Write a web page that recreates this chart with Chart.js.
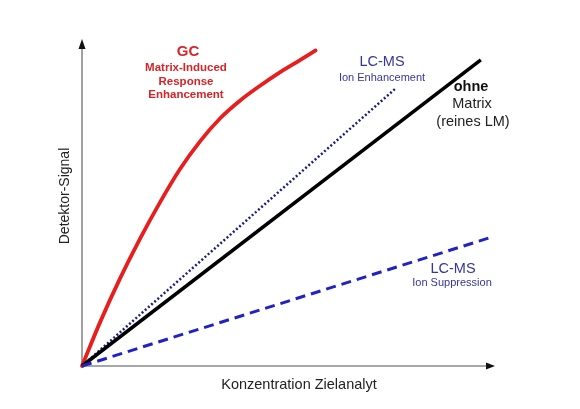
<!DOCTYPE html>
<html>
<head>
<meta charset="utf-8">
<script src="https://cdn.jsdelivr.net/npm/chart.js@4"></script>
<style>
html,body{margin:0;padding:0;background:#fff;}
#wrap{position:relative;width:580px;height:409px;}
</style>
</head>
<body>
<div id="wrap"><canvas id="c" width="580" height="409"></canvas></div>
<script>
// Data (x: concentration, y: detector signal, arbitrary units 0..100)
const gcX      = [0, 4.4, 9.3, 14.1, 19.0, 23.8, 28.7, 33.6, 38.4, 43.3, 48.2, 53.0, 56.7];
const gcY      = [0, 13.5, 27.1, 39.2, 50.5, 60.6, 69.2, 76.3, 81.7, 86.3, 90.5, 94.2, 97.1];
const ohneX    = [0, 96.8];
const ohneY    = [0, 94.2];
const enhX     = [0, 76.2];
const enhY     = [0, 85.5];
const suppX    = [0, 98.8];
const suppY    = [0, 39.4];
const xTitle   = 'Konzentration Zielanalyt';
const yTitle   = 'Detektor-Signal';
const gcLabel  = ['GC', 'Matrix-Induced', 'Response', 'Enhancement'];
const enhLabel = ['LC-MS', 'Ion Enhancement'];
const ohneLabel= ['ohne', 'Matrix', '(reines LM)'];
const suppLabel= ['LC-MS', 'Ion Suppression'];

const pts = (xs, ys) => xs.map((x, i) => ({x: x, y: ys[i]}));
const FONT = '"Liberation Sans", Arial, Helvetica, sans-serif';

const decor = {
  id: 'decor',
  beforeDatasetsDraw(chart) {
    const ctx = chart.ctx;
    const xs = chart.scales.x, ys = chart.scales.y;
    const x0 = xs.getPixelForValue(0), y0 = ys.getPixelForValue(0);
    const xEnd = xs.getPixelForValue(100), yEnd = ys.getPixelForValue(100);
    ctx.save();
    ctx.strokeStyle = '#8a8a8a';
    ctx.lineWidth = 1.6;
    ctx.beginPath();
    ctx.moveTo(x0, y0); ctx.lineTo(x0, yEnd + 6);
    ctx.moveTo(x0, y0); ctx.lineTo(xEnd - 6, y0);
    ctx.stroke();
    ctx.fillStyle = '#111';
    ctx.beginPath();
    ctx.moveTo(x0, yEnd - 2); ctx.lineTo(x0 - 3.5, yEnd + 8); ctx.lineTo(x0 + 3.5, yEnd + 8); ctx.closePath();
    ctx.fill();
    ctx.beginPath();
    ctx.moveTo(xEnd + 1, y0); ctx.lineTo(xEnd - 8, y0 - 3.5); ctx.lineTo(xEnd - 8, y0 + 3.5); ctx.closePath();
    ctx.fill();
    ctx.restore();
  },
  afterDatasetsDraw(chart) {
    const ctx = chart.ctx;
    ctx.save();
    ctx.textAlign = 'center';
    ctx.textBaseline = 'middle';
    const t = (s, x, y, font, color) => { ctx.font = font; ctx.fillStyle = color; ctx.fillText(s, x, y); };
    // axis titles
    t(xTitle, 299, 385, '14.5px ' + FONT, '#222');
    ctx.save();
    ctx.translate(65, 196);
    ctx.rotate(-Math.PI / 2);
    t(yTitle, 0, 0, '14px ' + FONT, '#222');
    ctx.restore();
    // GC label
    const red = '#d62428';
    t(gcLabel[0], 188, 52, 'bold 15px ' + FONT, red);
    t(gcLabel[1], 186, 67.5, 'bold 11.5px ' + FONT, red);
    t(gcLabel[2], 186, 81.5, 'bold 11.5px ' + FONT, red);
    t(gcLabel[3], 186, 95, 'bold 11.5px ' + FONT, red);
    // LC-MS enhancement
    const blue = '#3535a0';
    t(enhLabel[0], 382, 62, '14.5px ' + FONT, blue);
    t(enhLabel[1], 382, 78, '11px ' + FONT, blue);
    // ohne Matrix
    t(ohneLabel[0], 471, 87, 'bold 14.5px ' + FONT, '#111');
    t(ohneLabel[1], 472, 104, '14.5px ' + FONT, '#222');
    t(ohneLabel[2], 473, 122, '14.5px ' + FONT, '#222');
    // LC-MS suppression
    t(suppLabel[0], 453, 269, '14.5px ' + FONT, blue);
    t(suppLabel[1], 452, 283, '11px ' + FONT, blue);
    ctx.restore();
  }
};

new Chart(document.getElementById('c'), {
  type: 'line',
  data: {
    datasets: [
      { label: 'LC-MS Ion Suppression', data: pts(suppX, suppY), borderColor: '#2121c4', borderWidth: 3, borderDash: [10, 6], pointRadius: 0, fill: false, clip: false },
      { label: 'ohne Matrix', data: pts(ohneX, ohneY), borderColor: '#000', borderWidth: 3.5, pointRadius: 0, fill: false, clip: false },
      { label: 'LC-MS Ion Enhancement', data: pts(enhX, enhY), borderColor: '#1d1d86', borderWidth: 2.5, borderDash: [2, 2.2], pointRadius: 0, fill: false, clip: false },
      { label: 'GC', data: pts(gcX, gcY), borderColor: '#e81e1e', borderWidth: 3.8, pointRadius: 0, fill: false, clip: false, cubicInterpolationMode: 'monotone', borderCapStyle: 'round' }
    ]
  },
  options: {
    responsive: false,
    animation: false,
    events: [],
    layout: { padding: { left: 82, top: 41, right: 86, bottom: 43 } },
    plugins: { legend: { display: false }, tooltip: { enabled: false } },
    scales: {
      x: { type: 'linear', min: 0, max: 100, display: false },
      y: { type: 'linear', min: 0, max: 100, display: false }
    }
  },
  plugins: [decor]
});
</script>
</body>
</html>
